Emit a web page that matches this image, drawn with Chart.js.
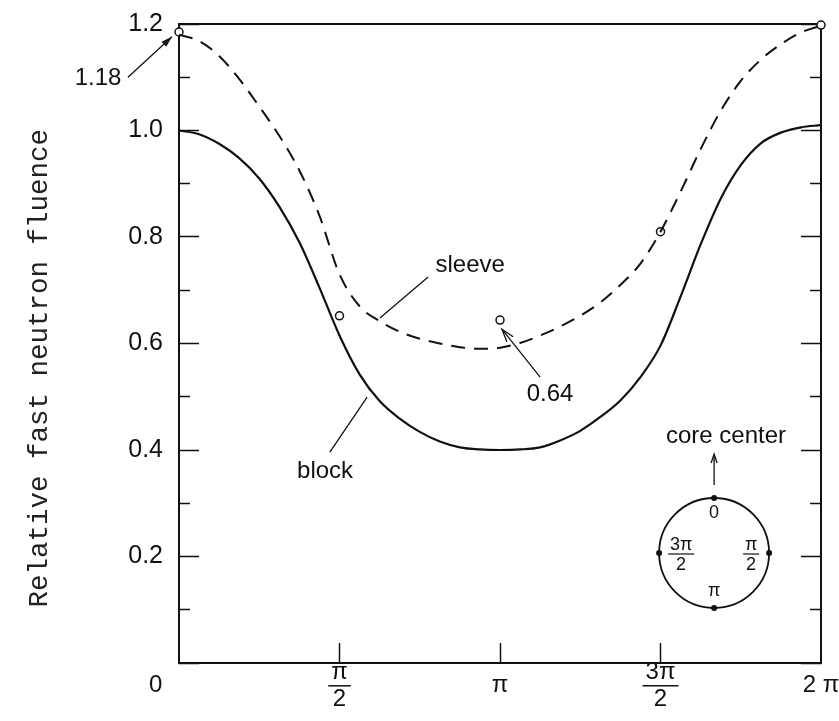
<!DOCTYPE html>
<html><head><meta charset="utf-8">
<script src="https://cdn.jsdelivr.net/npm/chart.js@4/dist/chart.umd.min.js"></script>
<style>html,body{margin:0;padding:0;background:#fff;}canvas{display:block;}</style>
</head><body>
<canvas id="c" width="839" height="721"></canvas>
<script>
// angle around the sleeve, in multiples of pi
const angle  = [0,0.0625,0.125,0.1875,0.25,0.3125,0.375,0.4375,0.5,0.5625,0.625,0.6875,0.75,0.8125,0.875,0.9375,1.0,
                1.0625,1.125,1.1875,1.25,1.3125,1.375,1.4375,1.5,1.5625,1.625,1.6875,1.75,1.8125,1.875,1.9375,2.0];
const block  = [1.00,0.993,0.975,0.948,0.91,0.857,0.79,0.705,0.615,0.542,0.492,0.459,0.434,0.416,0.405,0.401,0.40,
                0.401,0.405,0.418,0.436,0.462,0.493,0.537,0.596,0.688,0.786,0.872,0.935,0.976,0.996,1.006,1.01];
const sleeve = [1.18,1.168,1.14,1.097,1.045,0.99,0.925,0.84,0.73,0.67,0.642,0.622,0.609,0.60,0.593,0.59,0.592,
                0.601,0.615,0.632,0.652,0.677,0.71,0.75,0.81,0.885,0.965,1.037,1.093,1.133,1.162,1.184,1.197];
const measuredAngle = [0, 0.5, 1, 1.5, 2];
const measuredValue = [1.185, 0.652, 0.644, 0.81, 1.198];
const xTickValues = [0, 0.5, 1, 1.5, 2];
const xTickLabels = ['0       ', ['\u03c0','2'], '\u03c0', ['3\u03c0','2'], '2 \u03c0'];
const yTickValues = [0,0.1,0.2,0.3,0.4,0.5,0.6,0.7,0.8,0.9,1.0,1.1,1.2];
const yTickLabels = ['','','0.2','','0.4','','0.6','','0.8','','1.0','','1.2'];

const SANS = "'Liberation Sans', Arial, sans-serif";
const isMajor = v => Math.abs(v*5 - Math.round(v*5)) < 1e-6;
const noPad = s => { s.paddingLeft = 0; s.paddingRight = 0; s.paddingTop = 0; s.paddingBottom = 0; };

function arrowHead(ctx, x0, y0, x1, y1, len, half, filled){
  const a = Math.atan2(y1-y0, x1-x0);
  const bx = x1 - len*Math.cos(a), by = y1 - len*Math.sin(a);
  const px = -Math.sin(a)*half, py = Math.cos(a)*half;
  ctx.beginPath();
  ctx.moveTo(bx+px, by+py); ctx.lineTo(x1, y1); ctx.lineTo(bx-px, by-py);
  if (filled){ ctx.closePath(); ctx.fill(); } else ctx.stroke();
}
function line(ctx, x0,y0,x1,y1){ ctx.beginPath(); ctx.moveTo(x0,y0); ctx.lineTo(x1,y1); ctx.stroke(); }

const annot = {
  id: 'annot',
  afterDraw(chart){
    const ctx = chart.ctx, xs = chart.scales.x, ys = chart.scales.y;
    const P = (a,v) => [xs.getPixelForValue(a), ys.getPixelForValue(v)];
    ctx.save();
    ctx.strokeStyle = '#111'; ctx.fillStyle = '#111';
    // fraction bars of x tick labels
    const f = Chart.helpers.toFont(xs.options.ticks.font);
    ctx.font = f.string; ctx.lineWidth = 1.5;
    xs.getLabelItems().forEach(it => {
      if (Array.isArray(it.label) && it.label.length === 2){
        const [tx, ty] = it.options.translation;
        const yb = ty + it.textOffset + f.lineHeight/2;
        const w = Math.max(ctx.measureText(it.label[0]).width, ctx.measureText(it.label[1]).width) + 6;
        line(ctx, tx - w/2, yb, tx + w/2, yb);
      }
    });
    ctx.font = '24px ' + SANS; ctx.textAlign = 'center'; ctx.textBaseline = 'middle';
    ctx.lineWidth = 1.3;
    // 1.18
    let p = P(-0.252, 1.097); ctx.fillText('1.18', p[0], p[1]);
    let a = P(-0.159, 1.100), b = P(-0.022, 1.176);
    line(ctx, a[0], a[1], b[0], b[1]); arrowHead(ctx, a[0], a[1], b[0], b[1], 11, 3.5, true);
    // sleeve
    p = P(0.907, 0.746); ctx.fillText('sleeve', p[0], p[1]);
    a = P(0.776, 0.725); b = P(0.626, 0.648); line(ctx, a[0], a[1], b[0], b[1]);
    // block
    p = P(0.455, 0.359); ctx.fillText('block', p[0], p[1]);
    a = P(0.470, 0.396); b = P(0.586, 0.4995); line(ctx, a[0], a[1], b[0], b[1]);
    // 0.64
    p = P(1.156, 0.505); ctx.fillText('0.64', p[0], p[1]);
    a = P(1.125, 0.537); b = P(1.006, 0.627); line(ctx, a[0], a[1], b[0], b[1]);
    arrowHead(ctx, a[0], a[1], b[0], b[1], 13, 4, false);
    // inset: core center diagram
    p = P(1.704, 0.426); ctx.fillText('core center', p[0], p[1]);
    const c = P(1.667, 0.2066), cx = c[0], cy = c[1], r = 55;
    line(ctx, cx, cy - 68, cx, cy - 97);
    arrowHead(ctx, cx, cy - 68, cx, cy - 99, 9, 3, false);
    ctx.lineWidth = 1.8;
    ctx.beginPath(); ctx.arc(cx, cy, r, 0, Math.PI*2); ctx.stroke();
    [[0,-r],[r,0],[0,r],[-r,0]].forEach(d => { ctx.beginPath(); ctx.arc(cx+d[0], cy+d[1], 3, 0, Math.PI*2); ctx.fill(); });
    ctx.font = '18px ' + SANS; ctx.lineWidth = 1.2;
    ctx.fillText('0', cx, cy - 40);
    ctx.fillText('\u03c0', cx, cy + 38);
    ctx.fillText('\u03c0', cx + 37, cy - 8); line(ctx, cx+29, cy+1, cx+45, cy+1); ctx.fillText('2', cx + 37, cy + 12);
    ctx.fillText('3\u03c0', cx - 33, cy - 8); line(ctx, cx-46, cy+1, cx-20, cy+1); ctx.fillText('2', cx - 33, cy + 12);
    ctx.restore();
  }
};

new Chart(document.getElementById('c'), {
  type: 'line',
  data: {
    datasets: [
      { label: 'block', data: angle.map((a,i)=>({x:a, y:block[i]})), borderColor:'#111', borderWidth:2.2,
        pointRadius:0, fill:false, cubicInterpolationMode:'monotone' },
      { label: 'sleeve', data: angle.map((a,i)=>({x:a, y:sleeve[i]})), borderColor:'#111', borderWidth:2,
        borderDash:[14,9], pointRadius:0, fill:false, cubicInterpolationMode:'monotone' },
      { type:'scatter', label:'measured', data: measuredAngle.map((a,i)=>({x:a, y:measuredValue[i]})),
        pointRadius:4, pointBackgroundColor:'#fff', pointBorderColor:'#111', pointBorderWidth:1.5, clip:false, showLine:false }
    ]
  },
  options: {
    responsive:false, animation:false, devicePixelRatio:1,
    layout: { padding: { left:0, right:18, top:24, bottom:0 } },
    plugins: { legend:{display:false}, tooltip:{enabled:false} },
    scales: {
      x: {
        type:'linear', position:'bottom', min:0, max:2,
        afterBuildTicks: s => { s.ticks = xTickValues.map(v=>({value:v})); },
        afterFit: s => { s.height = 58; noPad(s); },
        ticks: { callback:(v,i)=>xTickLabels[i], autoSkip:false, maxRotation:0, crossAlign:'center', padding:29,
                 color:'#111', font:{family:SANS, size:24, lineHeight:1.15} },
        grid: { drawOnChartArea:false, tickLength:-20, tickWidth:1.5,
                tickColor: ctx => (ctx.tick && (ctx.tick.value===0 || ctx.tick.value===2)) ? 'rgba(0,0,0,0)' : '#111' },
        border: { color:'#111', width:2 }
      },
      x2: {
        type:'linear', position:'top', min:0, max:2,
        afterFit: s => { s.height = 0; noPad(s); },
        ticks:{display:false}, grid:{display:false}, border:{color:'#111', width:2}
      },
      y: {
        type:'linear', position:'left', min:0, max:1.2,
        afterBuildTicks: s => { s.ticks = yTickValues.map(v=>({value:v})); },
        afterFit: s => { s.width = 179; noPad(s); },
        ticks: { callback:(v,i)=>yTickLabels[i], autoSkip:false, padding:36, color:'#111', font:{family:SANS, size:25} },
        grid: { drawOnChartArea:false, tickLength:-20, tickWidth:1.5, tickColor:'#111',
                tickBorderDash: ctx => (ctx.tick && isMajor(ctx.tick.value)) ? [] : [0, 9, 12, 100] },
        border: { color:'#111', width:2 },
        title: { display:true, text:'Relative fast neutron fluence   ', color:'#222',
                 font:{family:"'Liberation Mono', monospace", size:27.5}, padding:{top:23, bottom:0} }
      },
      y2: {
        type:'linear', position:'right', min:0, max:1.2,
        afterBuildTicks: s => { s.ticks = yTickValues.map(v=>({value:v})); },
        afterFit: s => { s.width = 0; noPad(s); },
        ticks: { callback:()=>'', autoSkip:false },
        grid: { drawOnChartArea:false, tickLength:-20, tickWidth:1.5, tickColor:'#111',
                tickBorderDash: ctx => (ctx.tick && isMajor(ctx.tick.value)) ? [] : [12, 100] },
        border: { color:'#111', width:2 }
      }
    }
  },
  plugins: [annot]
});
</script>
</body></html>
